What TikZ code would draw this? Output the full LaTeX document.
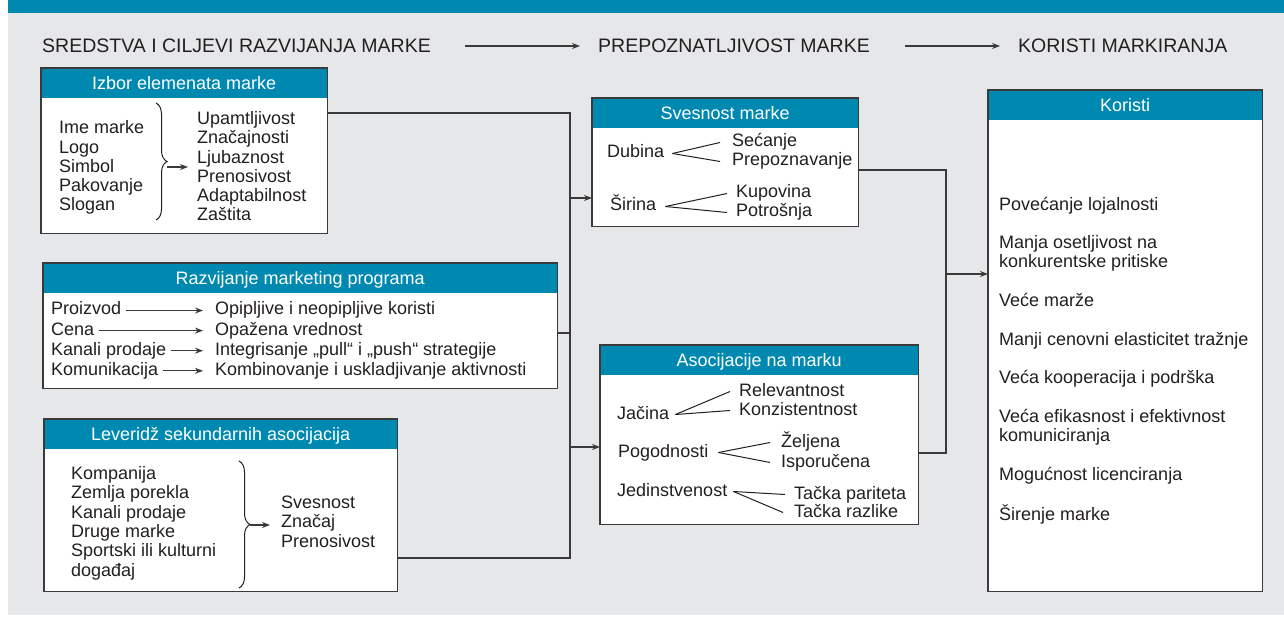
\documentclass[tikz,border=0pt]{standalone}
\usepackage{fontspec}
\setmainfont{Liberation Sans}
\usetikzlibrary{arrows.meta,decorations.pathreplacing}

\definecolor{headteal}{RGB}{0,137,176}
\definecolor{bggray}{RGB}{230,231,233}
\definecolor{framegray}{RGB}{58,58,58}
\definecolor{ink}{RGB}{35,31,32}

\tikzset{
  panel/.style={fill=white, inner sep=0pt, anchor=north west},
  panelhead/.style={fill=headteal, text=white, inner sep=0pt, anchor=north west,
    minimum height=29.5pt, text height=13pt, text depth=0pt, font=\fontsize{18}{20}\selectfont},
  outline/.style={draw=framegray, line width=1.3pt},
  % multi-line text: placed at the baseline of its last line
  txt/.style={text=ink, inner sep=0pt, anchor=base west, align=left, font=\fontsize{18}{19.3}\selectfont},
  row/.style={txt, text height=13pt, text depth=4pt},
  level/.style={text=ink, inner sep=0pt, anchor=base west, text height=14pt, text depth=0pt,
    font=\fontsize{19.5}{22}\selectfont},
  link/.style={draw=framegray, line width=1.2pt},
  tip/.style={link, -{Stealth[length=8pt,width=6pt]}},
  fork/.style={draw=ink, line width=1pt},
  curly/.style={draw=ink, line width=1pt, decorate, decoration={brace, amplitude=11pt}},
}

\begin{document}
\begin{tikzpicture}[x=1pt, y=-1pt]
  \useasboundingbox (0,0) rectangle (1284,617);
  \fill[bggray]   (8,13) rectangle (1284,615);
  \fill[headteal] (8,0)  rectangle (1284,13);

  % levels on top
  \node[level] (lvl1) at (42,53)   {SREDSTVA I CILJEVI RAZVIJANJA MARKE};
  \node[level] (lvl2) at (598,53)  {PREPOZNATLJIVOST MARKE};
  \node[level] (lvl3) at (1018,53) {KORISTI MARKIRANJA};
  \draw[tip] ([xshift=-133pt]lvl2.west) -- ([xshift=-18pt]lvl2.west);
  \draw[tip] ([xshift=-113pt]lvl3.west) -- ([xshift=-18pt]lvl3.west);

  % panels
  \node[panel, minimum width=286pt, minimum height=165pt] (izbor) at (41,68) {};
  \node[panelhead, minimum width=286pt] (izborHead) at (izbor.north west) {Izbor elemenata marke};
  \draw[outline] (izbor.north west) rectangle (izbor.south east);

  \node[panel, minimum width=514pt, minimum height=125pt] (program) at (43,263) {};
  \node[panelhead, minimum width=514pt] (programHead) at (program.north west) {Razvijanje marketing programa};
  \draw[outline] (program.north west) rectangle (program.south east);

  \node[panel, minimum width=353pt, minimum height=172pt] (leveridz) at (44,419) {};
  \node[panelhead, minimum width=353pt] (leveridzHead) at (leveridz.north west) {Leveridž sekundarnih asocijacija};
  \draw[outline] (leveridz.north west) rectangle (leveridz.south east);

  \node[panel, minimum width=266pt, minimum height=128pt] (svesnost) at (592,98) {};
  \node[panelhead, minimum width=266pt] (svesnostHead) at (svesnost.north west) {Svesnost marke};
  \draw[outline] (svesnost.north west) rectangle (svesnost.south east);

  \node[panel, minimum width=318pt, minimum height=179pt] (asocijacije) at (600,345) {};
  \node[panelhead, minimum width=318pt] (asocijacijeHead) at (asocijacije.north west) {Asocijacije na marku};
  \draw[outline] (asocijacije.north west) rectangle (asocijacije.south east);

  \node[panel, minimum width=274pt, minimum height=501pt] (koristi) at (988,90) {};
  \node[panelhead, minimum width=274pt] (koristiHead) at (koristi.north west) {Koristi};
  \draw[outline] (koristi.north west) rectangle (koristi.south east);

  % izbor elemenata
  \node[txt] (izbL) at (59,211) {Ime marke\\Logo\\Simbol\\Pakovanje\\Slogan};
  \node[txt] (izbR) at (197,221) {Upamtljivost\\Značajnosti\\Ljubaznost\\Prenosivost\\Adaptabilnost\\Zaštita};
  \draw[curly] (156,103) -- (156,220);
  \coordinate (izbTip) at (167,167);
  \draw[tip] (izbTip) -- ([xshift=-9pt]izbR.west |- izbTip);

  % marketing program
  \foreach \lt/\rt [count=\i] in {Proizvod/Opipljive i neopipljive koristi,
      Cena/Opažena vrednost,
      Kanali prodaje/Integrisanje „pull“ i „push“ strategije,
      Komunikacija/Kombinovanje i uskladjivanje aktivnosti}{
    \node[row] (prL\i) at (51,{315+20.1*(\i-1)}) {\lt};
    \node[row] (prR\i) at (215,{315+20.1*(\i-1)}) {\rt};
    \draw[tip] ([xshift=5pt]prL\i.east) -- ([xshift=-12pt]prR\i.west);
  }

  % sekundarne asocijacije
  \node[txt] (levL) at (71,576) {Kompanija\\Zemlja porekla\\Kanali prodaje\\Druge marke\\Sportski ili kulturni\\događaj};
  \node[txt] (levR) at (281,547) {Svesnost\\Značaj\\Prenosivost};
  \draw[curly] (239,461) -- (239,588);
  \coordinate (levTip) at (250,525);
  \draw[tip] (levTip) -- ([xshift=-11pt]levR.west |- levTip);

  % svesnost
  \node[row] (dub)  at (607,158) {Dubina};
  \node[row] (sec)  at (732,147) {Sećanje};
  \node[row] (prep) at (732,166) {Prepoznavanje};
  \node[row] (sir)  at (610,211) {Širina};
  \node[row] (kup)  at (736,198) {Kupovina};
  \node[row] (pot)  at (736,217) {Potrošnja};
  \draw[fork] ([xshift=8pt]dub.east) -- ([xshift=-12pt]sec.west);
  \draw[fork] ([xshift=8pt]dub.east) -- ([xshift=-12pt]prep.west);
  \draw[fork] ([xshift=9pt]sir.east) -- ([xshift=-9pt]kup.west);
  \draw[fork] ([xshift=9pt]sir.east) -- ([xshift=-9pt]pot.west);

  % asocijacije
  \node[row] (jac)  at (617,419) {Jačina};
  \node[row] (rel)  at (739,396) {Relevantnost};
  \node[row] (kon)  at (739,415) {Konzistentnost};
  \node[row] (pog)  at (618,457) {Pogodnosti};
  \node[row] (zel)  at (781,447) {Željena};
  \node[row] (isp)  at (781,467) {Isporučena};
  \node[row] (jed)  at (617,496) {Jedinstvenost};
  \node[row] (par)  at (794,499) {Tačka pariteta};
  \node[row] (raz)  at (794,517) {Tačka razlike};
  \draw[fork] ([xshift=6pt]jac.east) -- ([xshift=-9pt]rel.west);
  \draw[fork] ([xshift=6pt]jac.east) -- ([xshift=-9pt]kon.west);
  \draw[fork] ([xshift=10pt]pog.east) -- ([xshift=-11pt]zel.west);
  \draw[fork] ([xshift=10pt]pog.east) -- ([xshift=-11pt]isp.west);
  \draw[fork] ([xshift=6pt]jed.east) -- ([xshift=-9pt]par.west);
  \draw[fork] ([xshift=6pt]jed.east) -- ([xshift=-11pt]raz.west);

  % koristi
  \node[txt] (korL) at (999,520) {Povećanje lojalnosti\\[19.3pt]
    Manja osetljivost na\\konkurentske pritiske\\[19.3pt]
    Veće marže\\[19.3pt]
    Manji cenovni elasticitet tražnje\\[19.3pt]
    Veća kooperacija i podrška\\[19.3pt]
    Veća efikasnost i efektivnost\\komuniciranja\\[19.3pt]
    Mogućnost licenciranja\\[19.3pt]
    Širenje marke};

  % connectors
  \coordinate (lb1) at (570,113);
  \coordinate (lbm) at (570,333);
  \coordinate (lb2) at (570,558);
  \coordinate (la1) at (570,198);
  \coordinate (la2) at (570,447);
  \draw[link] (izbor.east |- lb1) -- (lb1) -- (lb2) -- (leveridz.east |- lb2);
  \draw[link] (program.east |- lbm) -- (lbm);
  \draw[tip] (la1) -- (svesnost.west |- la1);
  \draw[tip] (la2) -- (asocijacije.west |- la2);

  \coordinate (rb1) at (946,170);
  \coordinate (rb2) at (946,453);
  \coordinate (ra)  at (946,274);
  \draw[link] (svesnost.east |- rb1) -- (rb1) -- (rb2) -- (asocijacije.east |- rb2);
  \draw[tip] (ra) -- (koristi.west |- ra);
\end{tikzpicture}
\end{document}
